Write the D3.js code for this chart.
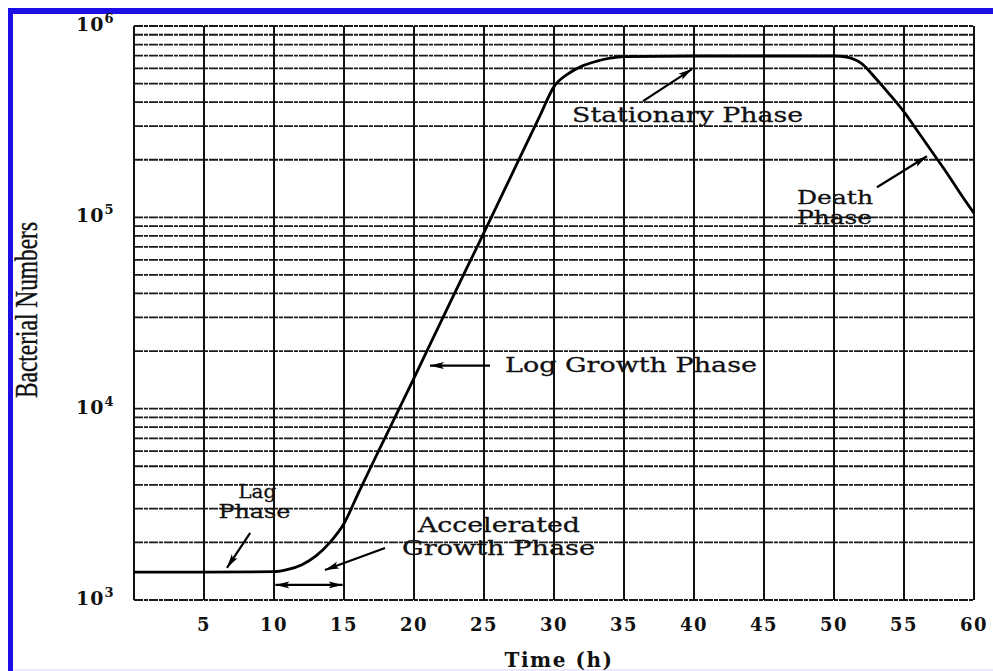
<!DOCTYPE html>
<html>
<head>
<meta charset="utf-8">
<script src="https://cdn.jsdelivr.net/npm/d3@7"></script>
<style>
  html, body { margin: 0; padding: 0; background: #fff; }
  svg { display: block; }
  .tick-label { font-family: "DejaVu Serif", serif; font-weight: bold; font-size: 18px; fill: #111; }
  .note { font-family: "DejaVu Serif", serif; font-size: 21px; fill: #111; stroke: #111; stroke-width: 0.3; }
</style>
</head>
<body>
<svg width="993" height="671"></svg>
<script>
// **** Data ****
var hours  = [0, 5, 10, 11, 12, 13, 14, 15, 16, 17.5, 20, 22.5, 25, 27.5, 29, 30,
              31, 32, 33, 34, 35, 40, 45, 50,
              51, 52, 53, 54, 55, 56, 57, 58, 59, 60];
var counts = [1400, 1400, 1406, 1445, 1530, 1700, 2000, 2510, 3590, 6070, 14450, 34900,
              83180, 201000, 340000, 482000,
              562000, 617000, 653000, 679000, 692000, 697000, 697000, 697000,
              686000, 634000, 530000, 437000, 356000, 280000, 220000, 173000, 134000, 105000];
var xTicks  = [5, 10, 15, 20, 25, 30, 35, 40, 45, 50, 55, 60];
var decades = [3, 4, 5, 6];

var svg = d3.select('svg');

// blue frame from the screenshot
svg.append('rect').attr('x', 8).attr('y', 8).attr('width', 985).attr('height', 6).style('fill', '#1c0fe6');
svg.append('rect').attr('x', 8).attr('y', 8).attr('width', 5).attr('height', 663).style('fill', '#1c0fe6');
svg.append('rect').attr('x', 13).attr('y', 669).attr('width', 980).attr('height', 2).style('fill', '#ece9ff');

// **** Scales ****
var x = d3.scaleLinear().domain([0, 60]).range([134, 974]);
var y = d3.scaleLog().domain([1e3, 1e6]).range([600, 26]);

// minor + major horizontal grid (1..9 per decade)
var hLines = [];
decades.forEach(function(e) {
    for (var m = 1; m <= 9; m++) {
        if (e === 6 && m > 1) break;
        hLines.push(m * Math.pow(10, e));
    }
});

var grid = svg.append('g').attr('class', 'grid');
grid.selectAll('line.h')
    .data(hLines)
    .enter()
    .append('line')
    .attr('class', 'h')
    .attr('x1', x(0)).attr('x2', x(60))
    .attr('y1', d => y(d)).attr('y2', d => y(d))
    .style('stroke', '#1a1a1a')
    .style('stroke-width', 1.8)
    .style('stroke-dasharray', '9,1,4,1');

grid.selectAll('line.v')
    .data([0].concat(xTicks))
    .enter()
    .append('line')
    .attr('class', 'v')
    .attr('x1', d => x(d)).attr('x2', d => x(d))
    .attr('y1', y(1e6)).attr('y2', y(1e3))
    .style('stroke', '#111')
    .style('stroke-width', 2);

// x tick labels
svg.selectAll('text.xt')
    .data(xTicks)
    .enter()
    .append('text')
    .attr('class', 'tick-label xt')
    .attr('x', d => x(d))
    .attr('y', 631)
    .attr('text-anchor', 'middle')
    .style('letter-spacing', '1.5px')
    .text(d => d);

// y tick labels: 10^n
var yl = svg.selectAll('text.yt')
    .data(decades)
    .enter()
    .append('text')
    .attr('class', 'tick-label yt')
    .attr('x', 76)
    .attr('y', d => y(Math.pow(10, d)) + 5)
    .style('font-size', '19px')
    .style('letter-spacing', '1px');
yl.append('tspan').text('10');
yl.append('tspan').attr('dy', -8).style('font-size', '13px').text(d => d);

// axis titles
svg.append('text')
    .attr('class', 'tick-label')
    .attr('x', 559)
    .attr('y', 667)
    .attr('text-anchor', 'middle')
    .style('font-size', '20px')
    .style('letter-spacing', '1.5px')
    .text('Time (h)');

svg.append('text')
    .attr('transform', 'translate(37,310) rotate(-90)')
    .attr('text-anchor', 'middle')
    .attr('textLength', 176)
    .attr('lengthAdjust', 'spacingAndGlyphs')
    .style('font-family', '"Liberation Serif", serif')
    .style('font-size', '31px')
    .style('fill', '#111')
    .style('stroke', '#111')
    .style('stroke-width', 0.4)
    .text('Bacterial Numbers');

// **** Growth curve ****
var points = hours.map((h, i) => [h, counts[i]]);
var line = d3.line()
    .x(d => x(d[0]))
    .y(d => y(d[1]))
    .curve(d3.curveMonotoneX);

svg.append('path')
    .datum(points)
    .attr('d', line)
    .style('fill', 'none')
    .style('stroke', '#000')
    .style('stroke-width', 2.8)
    .style('stroke-linejoin', 'round');

// **** Annotations (placed in data coordinates) ****
var defs = svg.append('defs');
defs.append('marker')
    .attr('id', 'head')
    .attr('viewBox', '0 -4 14 8')
    .attr('refX', 14).attr('refY', 0)
    .attr('markerUnits', 'userSpaceOnUse')
    .attr('markerWidth', 14).attr('markerHeight', 8)
    .attr('orient', 'auto-start-reverse')
    .append('path')
    .attr('d', 'M0,-3.5L14,0L0,3.5L3,0Z')
    .style('fill', '#000');

function arrow(t1, v1, t2, v2, both) {
    var a = svg.append('line')
        .attr('x1', x(t1)).attr('y1', y(v1))
        .attr('x2', x(t2)).attr('y2', y(v2))
        .style('stroke', '#000')
        .style('stroke-width', 2.2)
        .attr('marker-end', 'url(#head)');
    if (both) a.attr('marker-start', 'url(#head)');
}

function note(txt, t, v, len, anchor, size) {
    var n = svg.append('text')
        .attr('class', 'note')
        .attr('x', x(t))
        .attr('y', y(v))
        .attr('text-anchor', anchor || 'start')
        .style('font-size', (size || 21) + 'px')
        .text(txt);
    if (len) n.attr('textLength', len).attr('lengthAdjust', 'spacingAndGlyphs');
}

var L = v => Math.pow(10, v);

note('Lag', 8.8, L(3.535), 38, 'middle', 19);
note('Phase', 8.6, L(3.429), 72, 'middle', 19);
arrow(8.3, L(3.351), 6.64, L(3.168));

note('Accelerated', 26.07, L(3.356), 162, 'middle', 20);
note('Growth Phase', 26.04, L(3.236), 193, 'middle', 20);
arrow(17.93, L(3.272), 13.64, L(3.157));
arrow(10.1, L(3.079), 14.9, L(3.079), true);

note('Log Growth Phase', 26.5, L(4.194), 252);
arrow(25.43, L(4.225), 21.14, L(4.225));

note('Stationary Phase', 31.29, L(5.497), 231);
arrow(36.36, L(5.607), 39.86, L(5.775));

note('Death', 47.36, L(5.068), 76, 'start', 19);
note('Phase', 47.36, L(4.963), 75, 'start', 19);
arrow(53.07, L(5.157), 56.64, L(5.319));
</script>
</body>
</html>
